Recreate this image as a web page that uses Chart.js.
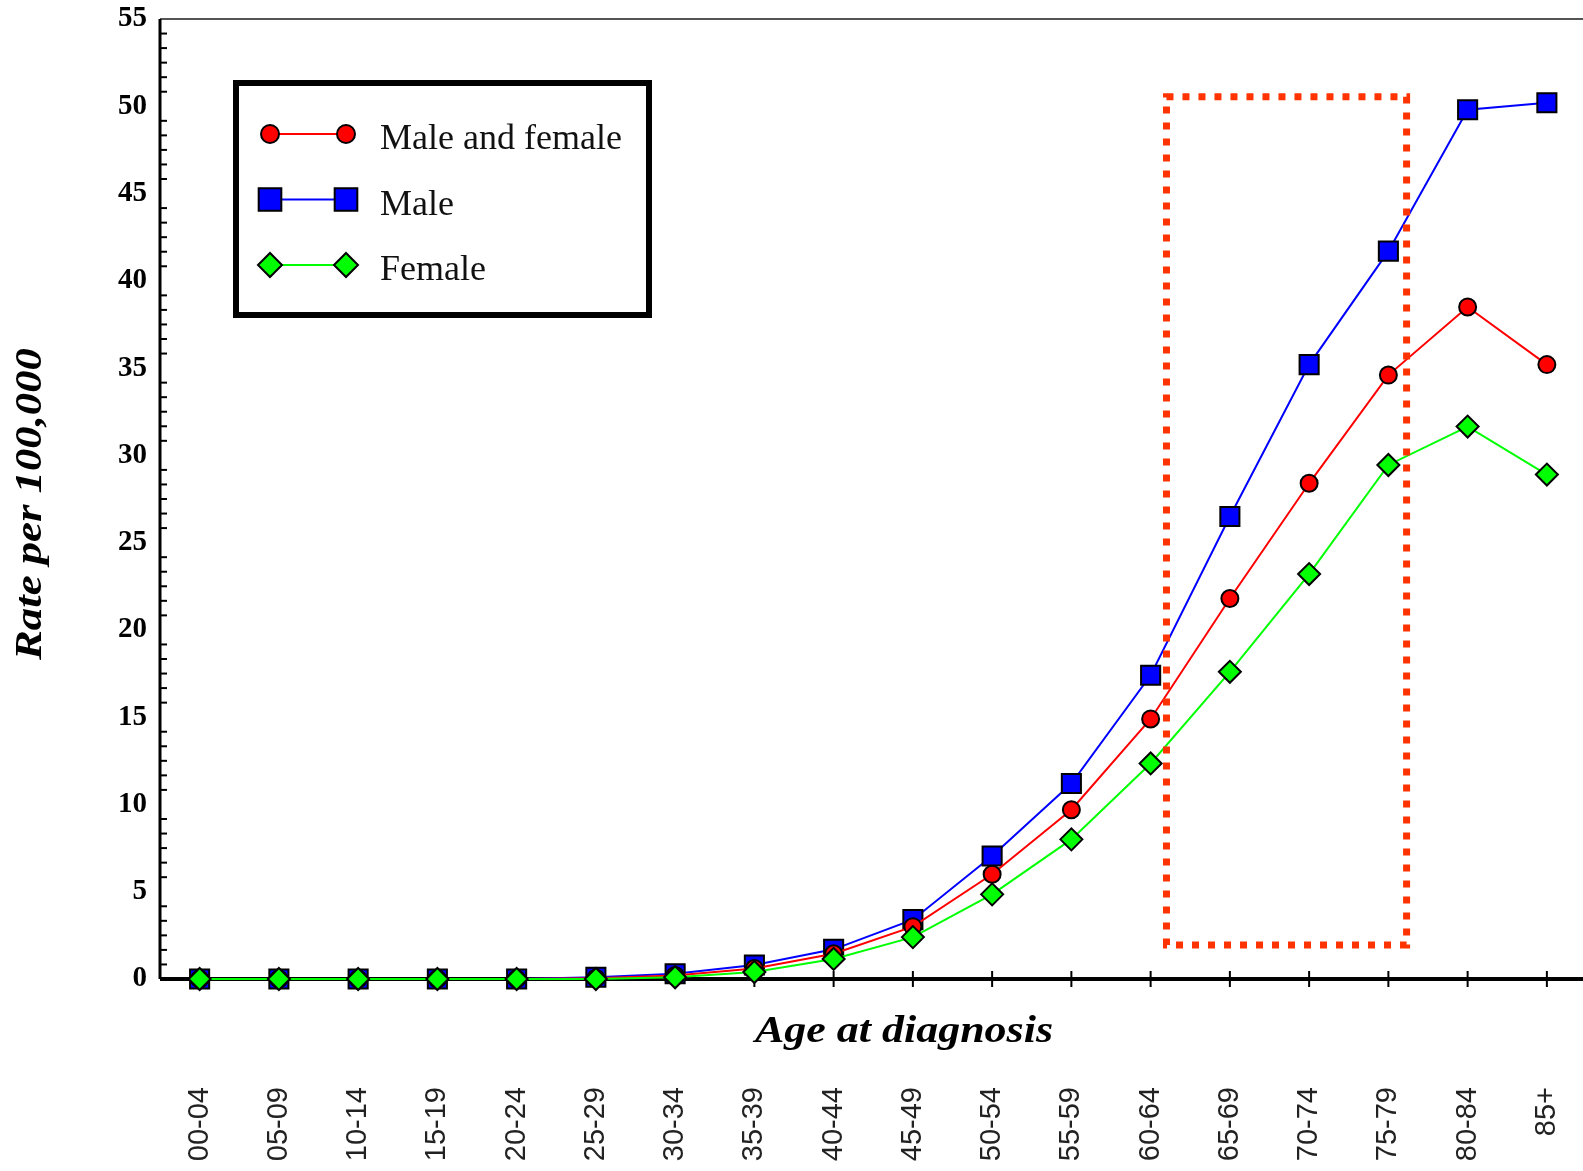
<!DOCTYPE html>
<html>
<head>
<meta charset="utf-8">
<title>Rate per 100,000 by age at diagnosis</title>
<script src="https://cdn.jsdelivr.net/npm/chart.js@4.4.1/dist/chart.umd.min.js"></script>
<style>
  html, body { margin: 0; padding: 0; background: #fff; overflow: hidden; }
  #wrap { width: 1602px; height: 1171px; }
</style>
</head>
<body>
<div id="wrap"><canvas id="myChart"></canvas></div>
<script>
// Age groups on the x axis
const ageGroups = ['00-04', '05-09', '10-14', '15-19', '20-24', '25-29', '30-34', '35-39', '40-44',
    '45-49', '50-54', '55-59', '60-64', '65-69', '70-74', '75-79', '80-84', '85+'];

// Rates per 100,000
const bothSexes = [0, 0, 0, 0, 0, 0.05, 0.2, 0.6, 1.45, 3.0, 6.0, 9.7, 14.9, 21.8, 28.4, 34.6, 38.5, 35.2];
const male = [0, 0, 0, 0, 0, 0.1, 0.3, 0.8, 1.7, 3.4, 7.05, 11.2, 17.4, 26.5, 35.2, 41.7, 49.8, 50.2];
const female = [0, 0, 0, 0, 0, 0, 0.1, 0.4, 1.15, 2.4, 4.85, 8.0, 12.35, 17.6, 23.2, 29.45, 31.65, 28.9];

// y axis range and label step
const yMax = 55;
const yStep = 5;

// highlighted range (dotted box), in axis units: category index / rate
const boxAges = [12.2, 15.23];
const boxRates = [1.95, 50.55];

const series = [
    { label: 'Male and female', data: bothSexes, color: '#ff0000', style: 'circle', r: 8.5, lr: 9, order: 1 },
    { label: 'Male', data: male, color: '#0000ff', style: 'rect', r: 13.5, lr: 16, order: 2 },
    { label: 'Female', data: female, color: '#00ff00', style: 'rectRot', r: 11, lr: 12, order: 0 }
];

function line(ctx, x1, y1, x2, y2) {
    ctx.beginPath();
    ctx.moveTo(x1, y1);
    ctx.lineTo(x2, y2);
    ctx.stroke();
}

// text squeezed/stretched to a given width
function fitText(ctx, text, x, y, width, rot) {
    ctx.save();
    ctx.translate(x, y);
    ctx.rotate(rot);
    const w = ctx.measureText(text).width;
    ctx.scale(width / w, 1);
    ctx.fillText(text, 0, 0);
    ctx.restore();
}

// axis lines and tick marks
const frame = {
    id: 'frame',
    beforeDatasetsDraw(chart) {
        const { ctx, chartArea: a, scales: { x, y } } = chart;
        ctx.save();
        ctx.strokeStyle = '#555';
        ctx.lineWidth = 2;
        line(ctx, a.left, a.top, a.right, a.top);

        ctx.strokeStyle = '#000';
        ctx.lineWidth = 3;
        line(ctx, a.left, a.top, a.left, a.bottom);

        // minor ticks, five between each labelled value
        ctx.lineWidth = 2;
        for (let v = 0; v < yMax; v += yStep) {
            for (let j = 1; j <= 5; j++) {
                const py = y.getPixelForValue(v + j * yStep / 6);
                line(ctx, a.left, py, a.left + 7, py);
            }
        }

        ageGroups.forEach((g, i) => {
            const px = x.getPixelForValue(i);
            line(ctx, px, a.bottom - 8, px, a.bottom + 8);
        });

        ctx.lineWidth = 4;
        line(ctx, a.left, a.bottom, a.right, a.bottom);
        ctx.restore();
    }
};

// dotted highlight box
const highlight = {
    id: 'highlight',
    afterDatasetsDraw(chart) {
        const { ctx, scales: { x, y } } = chart;
        const x1 = x.getPixelForValue(boxAges[0]);
        const x2 = x.getPixelForValue(boxAges[1]);
        const y1 = y.getPixelForValue(boxRates[1]);
        const y2 = y.getPixelForValue(boxRates[0]);
        ctx.save();
        ctx.strokeStyle = '#ff3300';
        ctx.lineWidth = 7;
        ctx.setLineDash([7, 9]);
        ctx.strokeRect(x1, y1, x2 - x1, y2 - y1);
        ctx.restore();
    }
};

// boxed legend and the two axis titles
const extras = {
    id: 'extras',
    afterDraw(chart) {
        const { ctx, chartArea: a } = chart;
        ctx.save();

        const lx = a.left + 73;
        const ly = a.top + 61;
        ctx.strokeStyle = '#000';
        ctx.lineWidth = 6;
        ctx.strokeRect(lx + 3, ly + 3, 413, 232);

        ctx.font = "36px 'Liberation Serif', 'Times New Roman', serif";
        ctx.textAlign = 'left';
        ctx.textBaseline = 'alphabetic';
        series.forEach((s, i) => {
            const ry = ly + 54 + i * 65.5;
            ctx.strokeStyle = s.color;
            ctx.lineWidth = 2;
            line(ctx, lx + 37, ry, lx + 113, ry);
            ctx.fillStyle = s.color;
            ctx.strokeStyle = '#000';
            ctx.lineWidth = 2;
            const opts = { pointStyle: s.style, radius: s.lr, rotation: 0, borderWidth: 2 };
            Chart.helpers.drawPoint(ctx, opts, lx + 37, ry);
            Chart.helpers.drawPoint(ctx, opts, lx + 113, ry);
            ctx.fillStyle = '#111';
            ctx.fillText(s.label, lx + 147, ry + 15);
        });

        ctx.fillStyle = '#000';
        ctx.textAlign = 'center';
        ctx.font = "italic bold 38px 'Liberation Serif', 'Times New Roman', serif";
        fitText(ctx, 'Age at diagnosis', 904, 1042, 298, 0);
        fitText(ctx, 'Rate per 100,000', 41, 504, 312, -Math.PI / 2);
        ctx.restore();
    }
};

const ctx = document.getElementById('myChart').getContext('2d');
const chart = new Chart(ctx, {
    type: 'line',
    data: {
        labels: ageGroups,
        datasets: series.map(s => ({
            label: s.label,
            data: s.data,
            borderColor: s.color,
            backgroundColor: s.color,
            borderWidth: 2,
            pointStyle: s.style,
            pointRadius: s.r,
            pointHoverRadius: s.r,
            pointBackgroundColor: s.color,
            pointBorderColor: '#000',
            pointBorderWidth: 2,
            tension: 0,
            fill: false,
            clip: false,
            order: s.order
        }))
    },
    options: {
        responsive: true,
        maintainAspectRatio: false,
        animation: false,
        events: [],
        layout: { padding: { top: 19, right: 0, bottom: 0, left: 0 } },
        plugins: {
            legend: { display: false },
            tooltip: { enabled: false }
        },
        scales: {
            x: {
                type: 'category',
                offset: true,
                // invisible tick marks only push the rotated labels down
                grid: { display: true, drawOnChartArea: false, drawTicks: true, tickLength: 108, tickColor: 'rgba(0,0,0,0)' },
                border: { display: false },
                ticks: {
                    autoSkip: false,
                    minRotation: 90,
                    maxRotation: 90,
                    padding: 0,
                    color: '#222',
                    font: { family: "'Liberation Sans', Arial, sans-serif", size: 29 }
                },
                afterFit(scale) { scale.height = 192; }
            },
            y: {
                min: 0,
                max: yMax,
                grid: { display: true, drawOnChartArea: false, drawTicks: true, tickLength: 13, tickColor: 'rgba(0,0,0,0)' },
                border: { display: false },
                ticks: {
                    stepSize: yStep,
                    padding: 0,
                    color: '#000',
                    font: { family: "'Liberation Serif', 'Times New Roman', serif", size: 29, weight: 'bold' }
                },
                afterFit(scale) { scale.width = 160; }
            }
        }
    },
    plugins: [frame, highlight, extras]
});
</script>
</body>
</html>
